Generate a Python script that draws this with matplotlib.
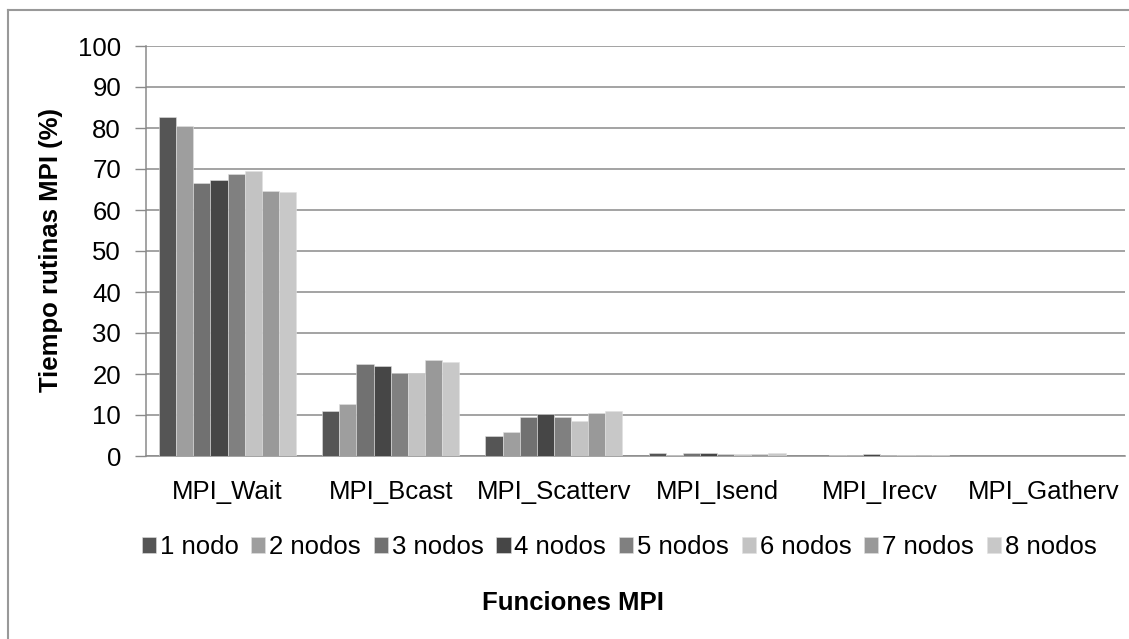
import matplotlib
matplotlib.use("Agg")
import matplotlib.pyplot as plt
from matplotlib.lines import Line2D
import numpy as np

plt.rcParams['font.family'] = ['Liberation Sans', 'DejaVu Sans']

categories = ["MPI_Wait", "MPI_Bcast", "MPI_Scatterv", "MPI_Isend", "MPI_Irecv", "MPI_Gatherv"]
series_names = ["1 nodo", "2 nodos", "3 nodos", "4 nodos", "5 nodos", "6 nodos", "7 nodos", "8 nodos"]
nodo1 = [82.8, 11.0, 4.9, 0.65, 0.1, 0.1]
nodos2 = [80.6, 12.8, 5.8, 0.2, 0.2, 0.0]
nodos3 = [66.5, 22.4, 9.5, 0.7, 0.3, 0.0]
nodos4 = [67.2, 22.0, 10.3, 0.7, 0.4, 0.0]
nodos5 = [68.8, 20.3, 9.4, 0.6, 0.3, 0.0]
nodos6 = [69.5, 20.3, 8.5, 0.55, 0.2, 0.0]
nodos7 = [64.6, 23.3, 10.5, 0.55, 0.2, 0.0]
nodos8 = [64.3, 22.9, 11.0, 0.7, 0.2, 0.0]
series_values = [nodo1, nodos2, nodos3, nodos4, nodos5, nodos6, nodos7, nodos8]
colors = ['#555555', '#9e9e9e', '#717171', '#464646', '#808080', '#c3c3c3', '#999999', '#c8c8c8']
yticks = [0, 10, 20, 30, 40, 50, 60, 70, 80, 90, 100]

W, H = 1129, 639
fig = plt.figure(figsize=(W / 100, H / 100), dpi=100)
ax = fig.add_axes([146 / W, 1 - 456 / H, (1125 - 146) / W, (456 - 46) / H])

x = np.arange(len(categories))
bw = 0.105
n = len(series_values)
for i, (vals, c, name) in enumerate(zip(series_values, colors, series_names)):
    ax.bar(x + (i - (n - 1) / 2) * bw, vals, width=bw, color=c, label=name,
           edgecolor='#e0e0e0', linewidth=0.4, zorder=3)

ax.set_xlim(-0.5, len(categories) - 0.5)
ax.set_ylim(0, 100)
ax.set_yticks(yticks)
ax.set_yticklabels([str(v) for v in yticks], fontsize=18.5)
ax.yaxis.grid(True, color='#8a8a8a', linewidth=1.1, zorder=0)
ax.set_axisbelow(True)
ax.set_xticks(x)
ax.set_xticklabels(categories, fontsize=18.5)
ax.tick_params(axis='x', length=0, pad=17)
ax.tick_params(axis='y', length=8, width=1, color='#8a8a8a', pad=10)
for s in ['top', 'right']:
    ax.spines[s].set_visible(False)
ax.spines['left'].set_color('#8a8a8a')
ax.spines['bottom'].set_color('#8a8a8a')
ax.spines['left'].set_linewidth(1.1)
ax.spines['bottom'].set_linewidth(1.1)

fig.text(51 / W, 1 - 250 / H, "Tiempo rutinas MPI (%)", rotation=90, fontsize=18.5,
         fontweight='bold', ha='center', va='center')
fig.text(573 / W, 1 - 603 / H, "Funciones MPI", fontsize=18.5, fontweight='bold',
         ha='center', va='center')

leg = fig.legend(loc='center', bbox_to_anchor=(619 / W, 1 - 547 / H), ncol=8,
                 frameon=False, fontsize=18.5, handlelength=0.55, handleheight=0.55,
                 handletextpad=0.15, columnspacing=0.5, borderaxespad=0, borderpad=0)

# outer frame (left and top edges visible)
fig.add_artist(Line2D([7.5 / W, 7.5 / W], [0, 1 - 9.5 / H], color='#999999', linewidth=1.5,
                      transform=fig.transFigure))
fig.add_artist(Line2D([7.5 / W, 1], [1 - 9.5 / H, 1 - 9.5 / H], color='#999999', linewidth=1.5,
                      transform=fig.transFigure))

fig.savefig("out.png", dpi=100)
